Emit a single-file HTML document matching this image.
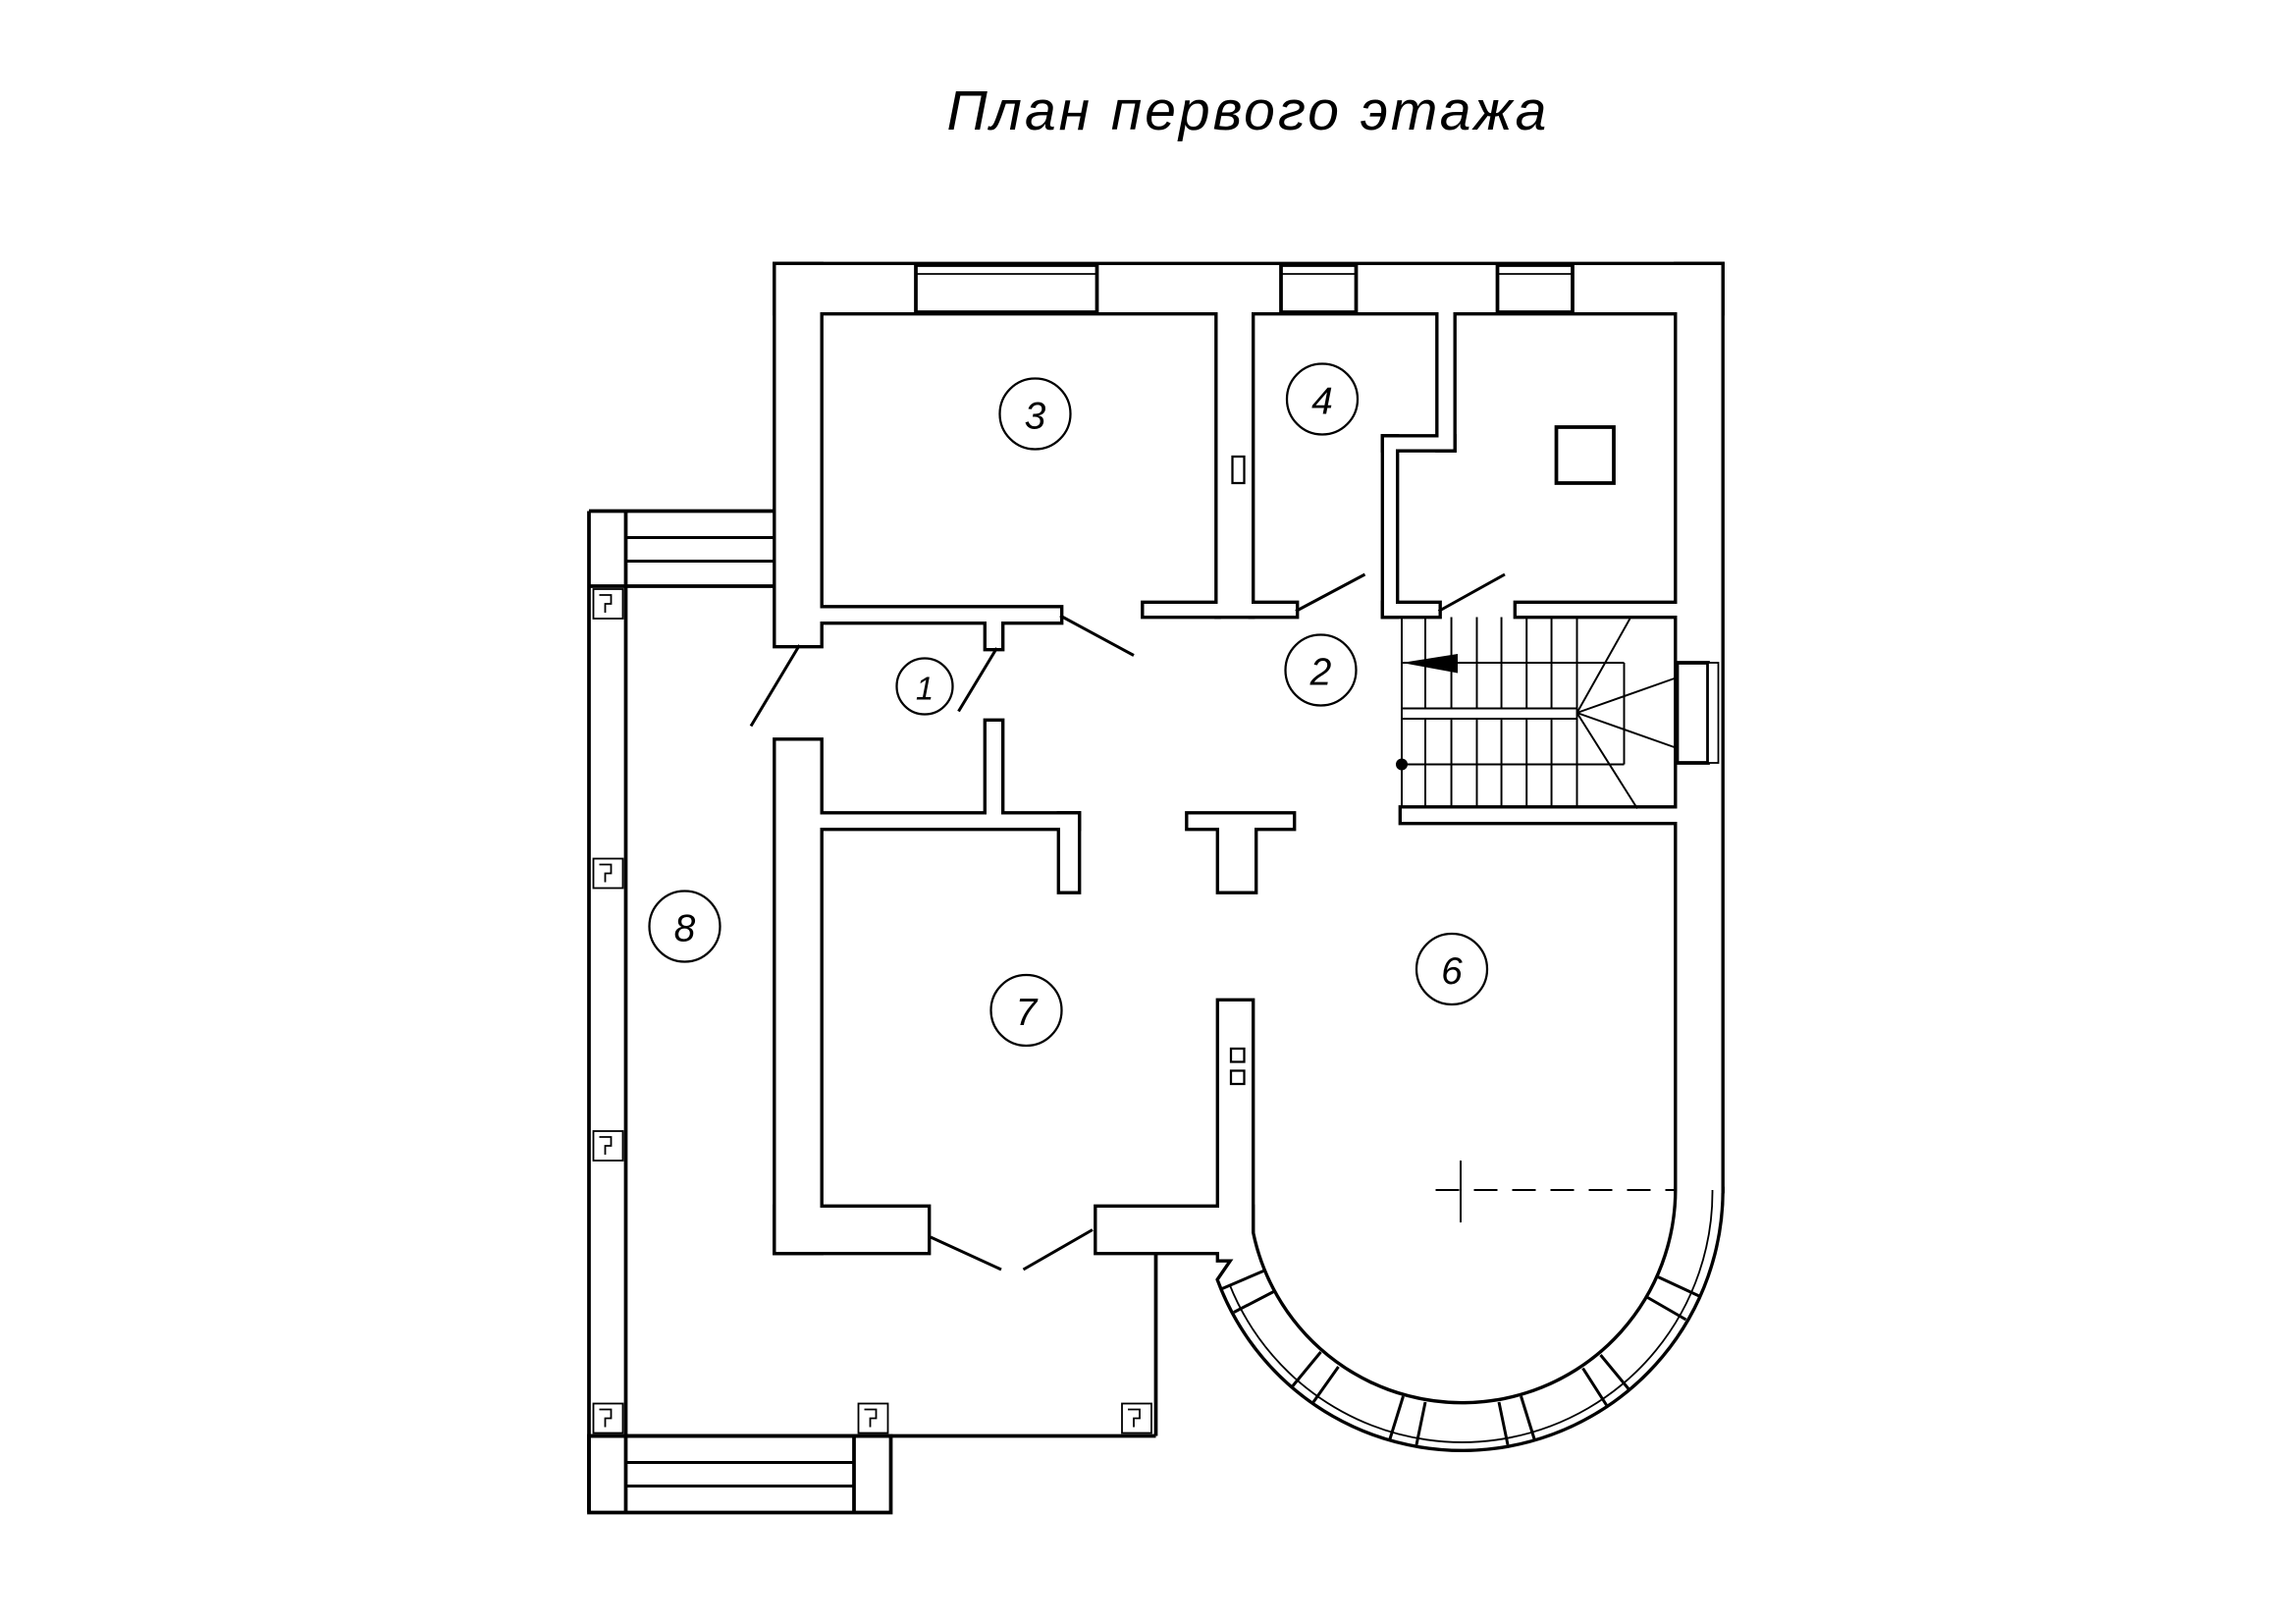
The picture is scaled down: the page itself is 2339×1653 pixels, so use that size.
<!DOCTYPE html>
<html><head><meta charset="utf-8"><style>html,body{margin:0;padding:0;background:#fff}svg{display:block}</style></head>
<body>
<svg width="2339" height="1653" viewBox="0 0 1559.33 1102" xmlns="http://www.w3.org/2000/svg">
<rect width="1559.33" height="1102" fill="#fff"/>
<text x="643" y="88" font-family="Liberation Sans, DejaVu Sans, sans-serif" font-style="italic" font-size="38" letter-spacing="2">План первого этажа</text>

<g id="walls">
<g stroke="#000" stroke-width="4.5" fill="#000">
<rect x="527" y="180" width="642" height="32"/>
<rect x="1139" y="180" width="30" height="628"/>
<rect x="527" y="180" width="30" height="258"/>
<rect x="527" y="503" width="30" height="347"/>
<rect x="527" y="820" width="103" height="30"/>
<rect x="745" y="820" width="105" height="30"/>
<rect x="828" y="680" width="22" height="175"/>
<rect x="827" y="212" width="23" height="206"/>
<rect x="557" y="413" width="163" height="9"/>
<rect x="670" y="422" width="10" height="18"/>
<rect x="777" y="410" width="50" height="8"/>
<rect x="850" y="410" width="30" height="8"/>
<rect x="977" y="212" width="10" height="93"/>
<rect x="940" y="297" width="47" height="8"/>
<rect x="940" y="297" width="8" height="121"/>
<rect x="940" y="410" width="37" height="8"/>
<rect x="1030" y="410" width="109" height="8"/>
<rect x="557" y="553" width="175" height="9"/>
<rect x="670" y="490" width="10" height="63"/>
<rect x="720" y="553" width="12" height="52"/>
<rect x="807" y="553" width="71" height="9"/>
<rect x="828" y="562" width="24" height="43"/>
<rect x="952" y="549" width="187" height="9"/>
<path d="M1169,808 A176,176 0 0 1 828,869 L850,837 A146,146 0 0 0 1139,808 Z"/>
</g>
<g fill="#fff">
<rect x="527" y="180" width="642" height="32"/>
<rect x="1139" y="180" width="30" height="630"/>
<rect x="527" y="180" width="30" height="258"/>
<rect x="527" y="503" width="30" height="347"/>
<rect x="527" y="820" width="103" height="30"/>
<rect x="745" y="820" width="105" height="30"/>
<rect x="828" y="680" width="22" height="175"/>
<rect x="827" y="212" width="23" height="206"/>
<rect x="557" y="413" width="163" height="9"/>
<rect x="670" y="422" width="10" height="18"/>
<rect x="777" y="410" width="50" height="8"/>
<rect x="850" y="410" width="30" height="8"/>
<rect x="977" y="212" width="10" height="93"/>
<rect x="940" y="297" width="47" height="8"/>
<rect x="940" y="297" width="8" height="121"/>
<rect x="940" y="410" width="37" height="8"/>
<rect x="1030" y="410" width="109" height="8"/>
<rect x="557" y="553" width="175" height="9"/>
<rect x="670" y="490" width="10" height="63"/>
<rect x="720" y="553" width="12" height="52"/>
<rect x="807" y="553" width="71" height="9"/>
<rect x="828" y="562" width="24" height="43"/>
<rect x="952" y="549" width="187" height="9"/>
<path d="M1169,806 A176,176 0 0 1 828,869 L850,837 A146,146 0 0 0 1139,806 Z"/>
</g>
</g>

<g stroke="#000" stroke-width="2.5" fill="none">
<rect x="622" y="180" width="123" height="32" fill="#fff"/>
<line x1="622" y1="186" x2="745" y2="186" stroke-width="1.2"/>
<rect x="870" y="180" width="51" height="32" fill="#fff"/>
<line x1="870" y1="186" x2="921" y2="186" stroke-width="1.2"/>
<rect x="1017" y="180" width="51" height="32" fill="#fff"/>
<line x1="1017" y1="186" x2="1068" y2="186" stroke-width="1.2"/>
<rect x="1139" y="450" width="21" height="68" fill="#fff"/>
<rect x="1160" y="450" width="7" height="68" fill="#fff" stroke-width="1.2"/>

<path d="M1163,808 A170,170 0 0 1 835,872" stroke-width="1.2"/>
<g stroke-width="2">
<line x1="865" y1="877" x2="838" y2="891"/><line x1="858" y1="863" x2="830" y2="875"/>
<line x1="909" y1="928" x2="892" y2="952"/><line x1="897" y1="918" x2="878" y2="941"/>
<line x1="968" y1="952" x2="962" y2="981"/><line x1="953" y1="948" x2="944" y2="977"/>
<line x1="1033" y1="948" x2="1042" y2="977"/><line x1="1018" y1="952" x2="1024" y2="981"/>
<line x1="1087" y1="920" x2="1106" y2="943"/><line x1="1075" y1="929" x2="1091" y2="954"/>
<line x1="1126" y1="867" x2="1154" y2="880"/><line x1="1119" y1="881" x2="1145" y2="896"/>
</g>

<g stroke-width="1.3">
<line x1="952" y1="419" x2="952" y2="549"/>
<line x1="952" y1="450" x2="1103" y2="450"/>
<line x1="1103" y1="450" x2="1103" y2="519"/>
<line x1="952" y1="519" x2="1103" y2="519"/>
<line x1="952" y1="481" x2="1071" y2="481"/>
<line x1="952" y1="488" x2="1071" y2="488"/>
<line x1="968" y1="419" x2="968" y2="481"/><line x1="985.7" y1="419" x2="985.7" y2="481"/><line x1="1003" y1="419" x2="1003" y2="481"/><line x1="1019.7" y1="419" x2="1019.7" y2="481"/><line x1="1036.8" y1="419" x2="1036.8" y2="481"/><line x1="1053.7" y1="419" x2="1053.7" y2="481"/><line x1="1071" y1="419" x2="1071" y2="484"/>
<line x1="968" y1="488" x2="968" y2="549"/><line x1="985.7" y1="488" x2="985.7" y2="549"/><line x1="1003" y1="488" x2="1003" y2="549"/><line x1="1019.7" y1="488" x2="1019.7" y2="549"/><line x1="1036.8" y1="488" x2="1036.8" y2="549"/><line x1="1053.7" y1="488" x2="1053.7" y2="549"/><line x1="1071" y1="484" x2="1071" y2="549"/>
<line x1="1071" y1="484" x2="1107" y2="420"/>
<line x1="1071" y1="484" x2="1139" y2="460"/>
<line x1="1071" y1="484" x2="1139" y2="508"/>
<line x1="1071" y1="484" x2="1112" y2="549"/>
</g>
<polygon points="952,450 990,444 990,457" fill="#000" stroke="none"/>
<circle cx="952" cy="519" r="4" fill="#000" stroke="none"/>

<line x1="510" y1="493" x2="543" y2="438" stroke-width="2"/>
<line x1="651" y1="483" x2="677" y2="440" stroke-width="2"/>
<line x1="720" y1="418" x2="770" y2="445" stroke-width="2"/>
<line x1="880" y1="415" x2="927" y2="390" stroke-width="2"/>
<line x1="977" y1="415" x2="1022" y2="390" stroke-width="2"/>
<line x1="632" y1="840" x2="680" y2="862" stroke-width="2"/>
<line x1="695" y1="862" x2="742" y2="835" stroke-width="2"/>

<line x1="400" y1="347" x2="400" y2="1027"/>
<line x1="425" y1="347" x2="425" y2="1027"/>
<line x1="400" y1="347" x2="527" y2="347"/>
<line x1="400" y1="398" x2="527" y2="398"/>
<line x1="425" y1="365" x2="527" y2="365" stroke-width="2"/>
<line x1="425" y1="381" x2="527" y2="381" stroke-width="2"/>
<line x1="400" y1="975" x2="785" y2="975"/>
<line x1="785" y1="850" x2="785" y2="975"/>
<rect x="400" y="975" width="205" height="52"/>
<line x1="425" y1="993" x2="580" y2="993" stroke-width="2"/>
<line x1="425" y1="1009" x2="580" y2="1009" stroke-width="2"/>
<line x1="580" y1="975" x2="580" y2="1027"/>

<rect x="1057" y="290" width="39" height="38"/>
<rect x="837" y="310" width="8" height="18" stroke-width="1.5"/>
<rect x="836" y="712" width="9" height="9" stroke-width="1.5"/>
<rect x="836" y="727" width="9" height="9" stroke-width="1.5"/>
<line x1="975" y1="808" x2="1137" y2="808" stroke-width="1.3" stroke-dasharray="16,10"/>
<line x1="992" y1="788" x2="992" y2="830" stroke-width="1.3"/>
</g>

<g stroke="#000" stroke-width="1.2" fill="#fff">
<rect x="403" y="400" width="20" height="20"/><path d="M407,404h8v6h-4v6" fill="none"/>
<rect x="403" y="583" width="20" height="20"/><path d="M407,587h8v6h-4v6" fill="none"/>
<rect x="403" y="768" width="20" height="20"/><path d="M407,772h8v6h-4v6" fill="none"/>
<rect x="403" y="953" width="20" height="20"/><path d="M407,957h8v6h-4v6" fill="none"/>
<rect x="583" y="953" width="20" height="20"/><path d="M587,957h8v6h-4v6" fill="none"/>
<rect x="762" y="953" width="20" height="20"/><path d="M766,957h8v6h-4v6" fill="none"/>
</g>

<g stroke="#000" stroke-width="1.5" fill="none">
<circle cx="703" cy="281" r="24"/><circle cx="898" cy="271" r="24"/>
<circle cx="628" cy="466" r="19"/><circle cx="897" cy="455" r="24"/>
<circle cx="465" cy="629" r="24"/><circle cx="697" cy="686" r="24"/>
<circle cx="986" cy="658" r="24"/>
</g>
<g font-family="Liberation Sans, sans-serif" font-style="italic" font-size="26" text-anchor="middle">
<text x="703" y="291">3</text><text x="898" y="281">4</text>
<text x="628" y="475" font-size="22">1</text><text x="897" y="465">2</text>
<text x="465" y="639">8</text><text x="697" y="696">7</text>
<text x="986" y="668">6</text>
</g>
</svg>
</body></html>
